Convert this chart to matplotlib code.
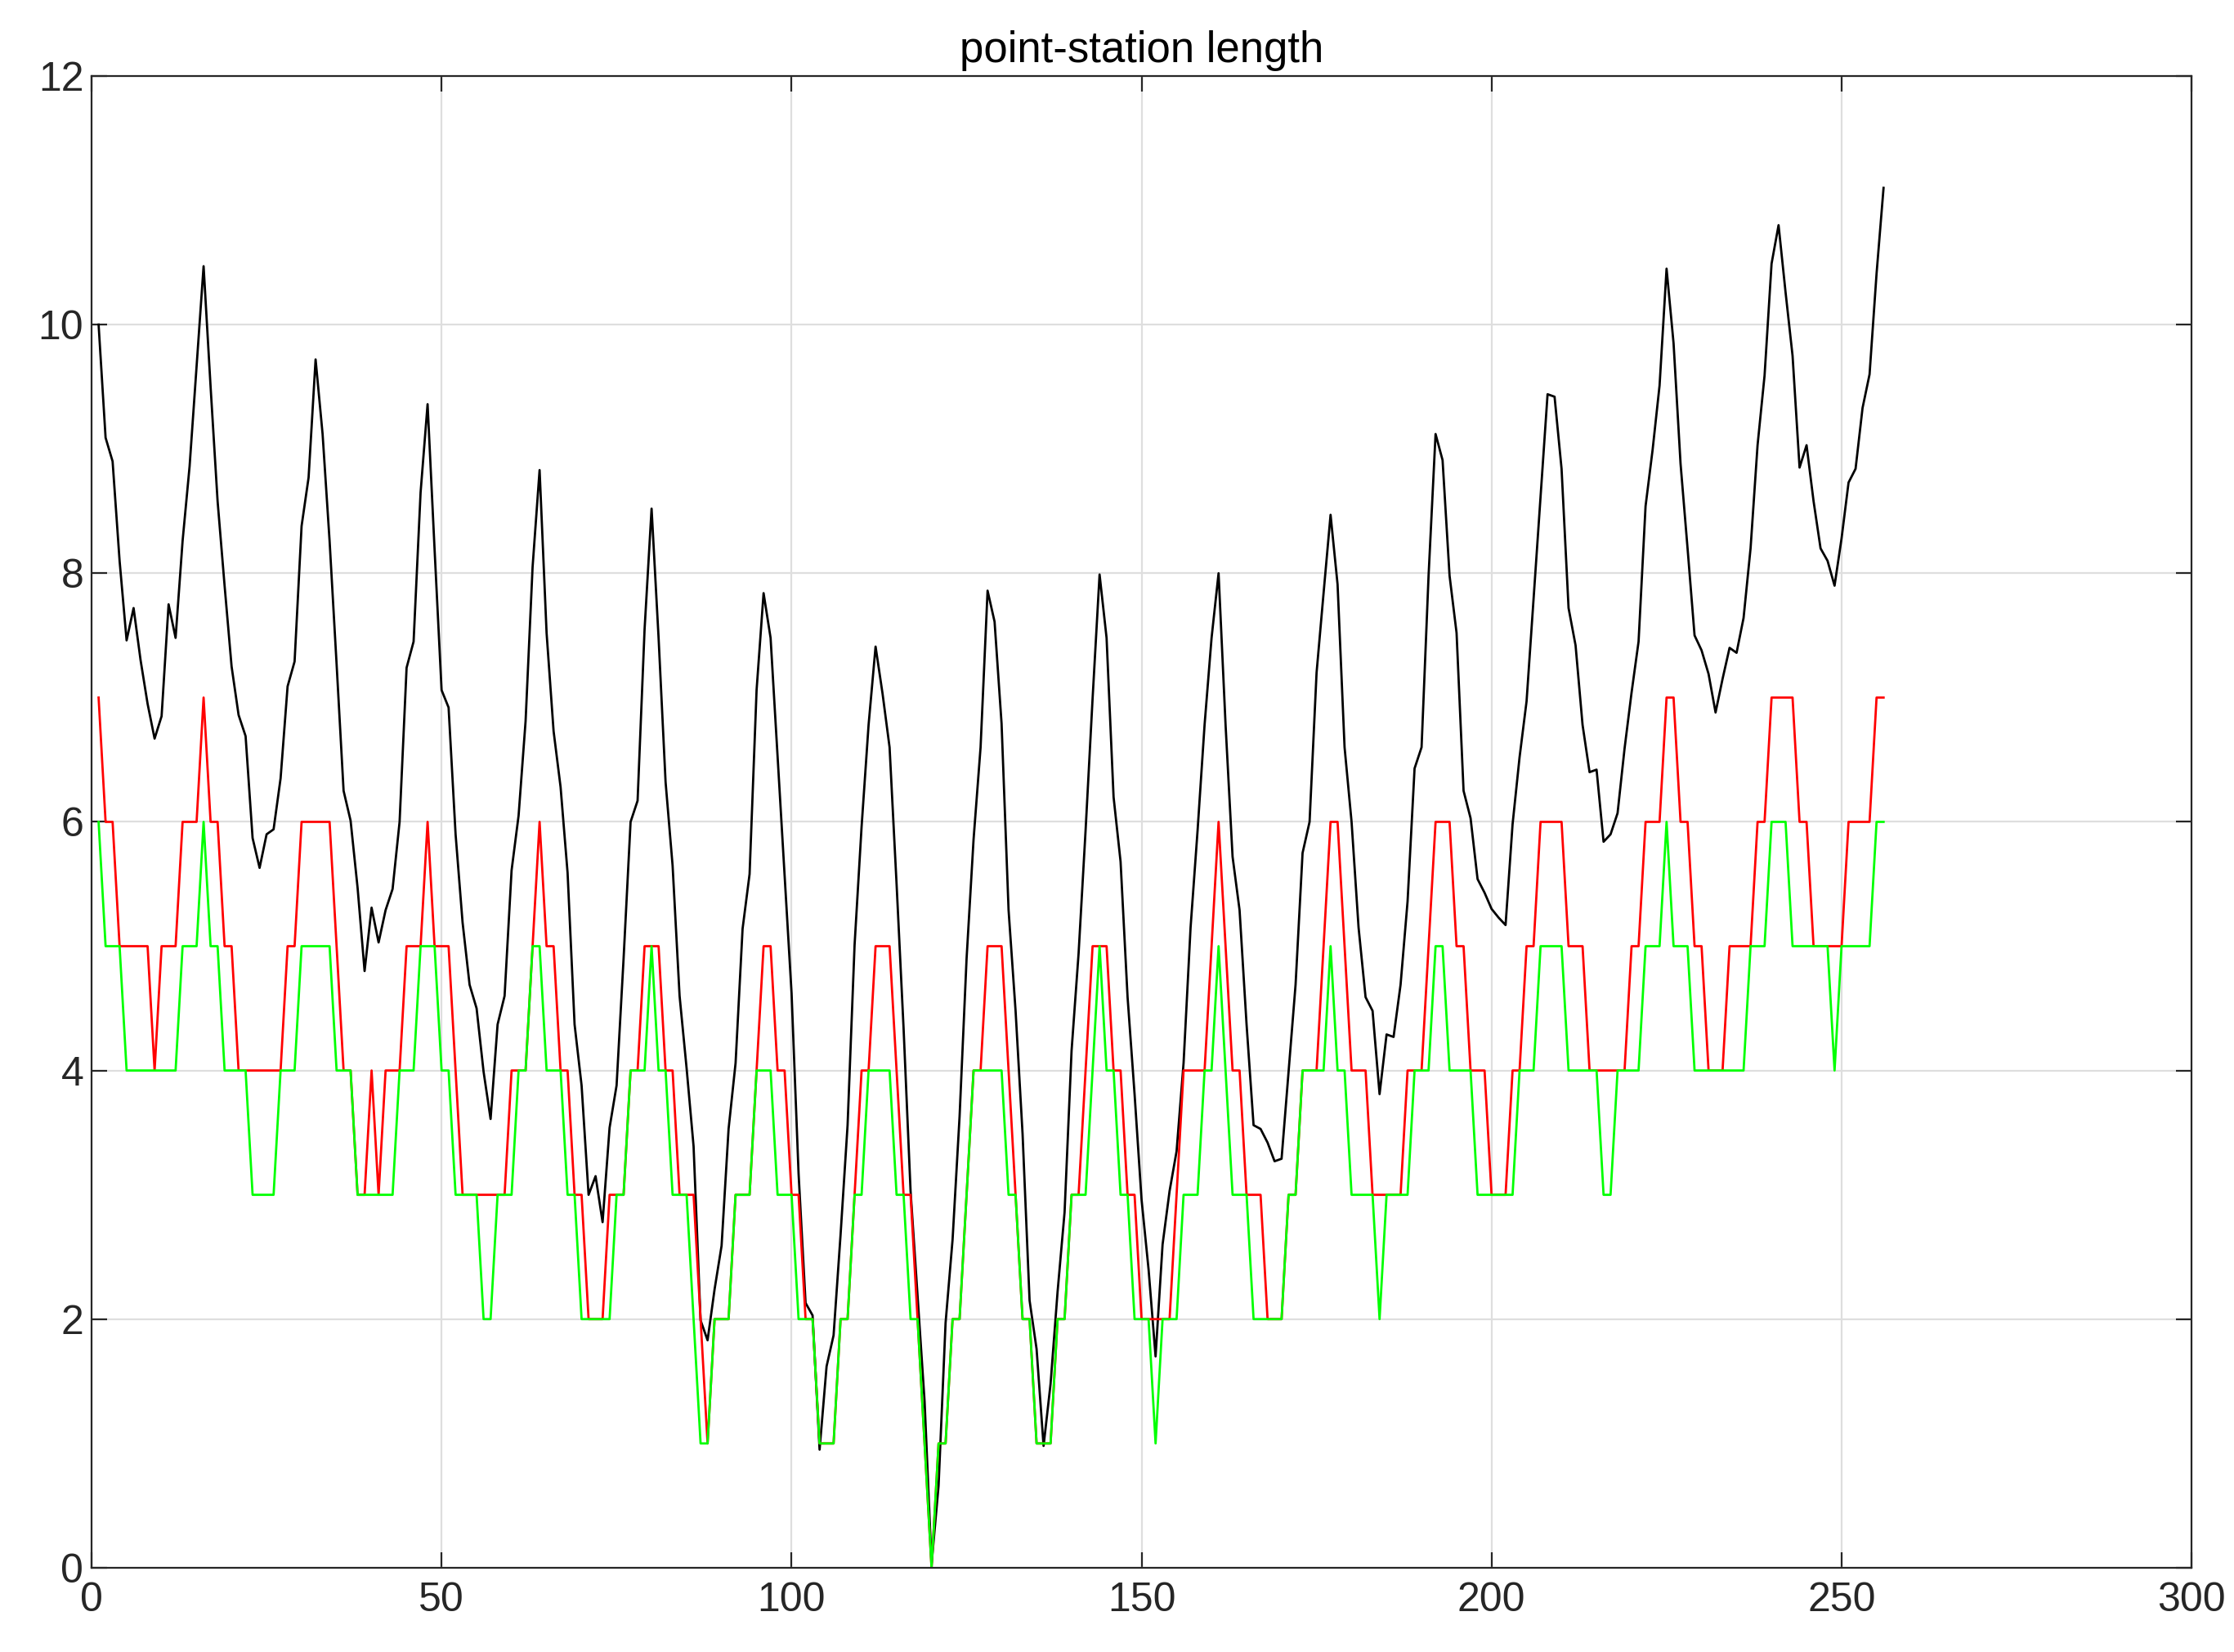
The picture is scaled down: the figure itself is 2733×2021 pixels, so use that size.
import numpy as np
import matplotlib
matplotlib.use('Agg')
import matplotlib.pyplot as plt

black_len = [10, 9.09, 8.9, 8.1, 7.46, 7.72, 7.3, 6.95, 6.67, 6.85,
             7.75, 7.48, 8.26, 8.86, 9.67, 10.47, 9.5, 8.58, 7.9, 7.25,
             6.86, 6.69, 5.87, 5.63, 5.9, 5.94, 6.35, 7.09, 7.29, 8.38,
             8.77, 9.72, 9.12, 8.26, 7.27, 6.25, 6.01, 5.47, 4.8, 5.31,
             5.03, 5.29, 5.46, 6.0, 7.24, 7.45, 8.65, 9.36, 8.19, 7.06,
             6.92, 5.9, 5.19, 4.69, 4.5, 3.99, 3.61, 4.37, 4.6, 5.61,
             6.05, 6.81, 8.05, 8.83, 7.52, 6.73, 6.28, 5.59, 4.37, 3.88,
             3.0, 3.15, 2.78, 3.54, 3.88, 4.9, 6.0, 6.17, 7.55, 8.52,
             7.48, 6.32, 5.65, 4.6, 4.02, 3.39, 1.99, 1.83, 2.24, 2.59,
             3.53, 4.06, 5.14, 5.58, 7.06, 7.84, 7.48, 6.53, 5.58, 4.62,
             3.17, 2.13, 2.03, 0.95, 1.62, 1.87, 2.68, 3.56, 5.01, 5.96,
             6.78, 7.41, 7.03, 6.6, 5.5, 4.34, 3.03, 2.18, 1.34, 0.03,
             0.66, 1.97, 2.64, 3.63, 4.9, 5.86, 6.6, 7.86, 7.61, 6.79,
             5.29, 4.48, 3.49, 2.15, 1.76, 0.98, 1.48, 2.22, 2.86, 4.16,
             4.94, 5.93, 6.99, 7.99, 7.48, 6.2, 5.68, 4.59, 3.81, 2.96,
             2.4, 1.7, 2.6, 3.03, 3.35, 4.06, 5.15, 5.93, 6.78, 7.48,
             8.0, 6.78, 5.72, 5.29, 4.37, 3.56, 3.53, 3.42, 3.27, 3.29,
             3.99, 4.69, 5.75, 6.0, 7.2, 7.84, 8.47, 7.91, 6.6, 6.0,
             5.15, 4.59, 4.48, 3.81, 4.29, 4.27, 4.69, 5.36, 6.43, 6.6,
             7.98, 9.12, 8.91, 7.98, 7.52, 6.25, 6.03, 5.54, 5.43, 5.3,
             5.23, 5.17, 5.98, 6.52, 6.97, 7.79, 8.61, 9.44, 9.42, 8.84,
             7.72, 7.42, 6.78, 6.4, 6.42, 5.84, 5.9, 6.07, 6.59, 7.04,
             7.45, 8.54, 8.99, 9.51, 10.45, 9.85, 8.88, 8.2, 7.5, 7.38,
             7.19, 6.88, 7.15, 7.4, 7.36, 7.64, 8.2, 9.03, 9.59, 10.49,
             10.8, 10.26, 9.75, 8.85, 9.03, 8.58, 8.2, 8.1, 7.9, 8.28,
             8.73, 8.84, 9.33, 9.6, 10.41, 11.1]

red_len = [7, 6, 6, 5, 5, 5, 5, 5, 4, 5,
           5, 5, 6, 6, 6, 7, 6, 6, 5, 5,
           4, 4, 4, 4, 4, 4, 4, 5, 5, 6,
           6, 6, 6, 6, 5, 4, 4, 3, 3, 4,
           3, 4, 4, 4, 5, 5, 5, 6, 5, 5,
           5, 4, 3, 3, 3, 3, 3, 3, 3, 4,
           4, 4, 5, 6, 5, 5, 4, 4, 3, 3,
           2, 2, 2, 3, 3, 3, 4, 4, 5, 5,
           5, 4, 4, 3, 3, 3, 2, 1, 2, 2,
           2, 3, 3, 3, 4, 5, 5, 4, 4, 3,
           3, 2, 2, 1, 1, 1, 2, 2, 3, 4,
           4, 5, 5, 5, 4, 3, 3, 2, 1, 0,
           1, 1, 2, 2, 3, 4, 4, 5, 5, 5,
           4, 3, 2, 2, 1, 1, 1, 2, 2, 3,
           3, 4, 5, 5, 5, 4, 4, 3, 3, 2,
           2, 2, 2, 2, 3, 4, 4, 4, 4, 5,
           6, 5, 4, 4, 3, 3, 3, 2, 2, 2,
           3, 3, 4, 4, 4, 5, 6, 6, 5, 4,
           4, 4, 3, 3, 3, 3, 3, 4, 4, 4,
           5, 6, 6, 6, 5, 5, 4, 4, 4, 3,
           3, 3, 4, 4, 5, 5, 6, 6, 6, 6,
           5, 5, 5, 4, 4, 4, 4, 4, 4, 5,
           5, 6, 6, 6, 7, 7, 6, 6, 5, 5,
           4, 4, 4, 5, 5, 5, 5, 6, 6, 7,
           7, 7, 7, 6, 6, 5, 5, 5, 5, 5,
           6, 6, 6, 6, 7, 7]

green_len = [6, 5, 5, 5, 4, 4, 4, 4, 4, 4,
             4, 4, 5, 5, 5, 6, 5, 5, 4, 4,
             4, 4, 3, 3, 3, 3, 4, 4, 4, 5,
             5, 5, 5, 5, 4, 4, 4, 3, 3, 3,
             3, 3, 3, 4, 4, 4, 5, 5, 5, 4,
             4, 3, 3, 3, 3, 2, 2, 3, 3, 3,
             4, 4, 5, 5, 4, 4, 4, 3, 3, 2,
             2, 2, 2, 2, 3, 3, 4, 4, 4, 5,
             4, 4, 3, 3, 3, 2, 1, 1, 2, 2,
             2, 3, 3, 3, 4, 4, 4, 3, 3, 3,
             2, 2, 2, 1, 1, 1, 2, 2, 3, 3,
             4, 4, 4, 4, 3, 3, 2, 2, 1, 0,
             1, 1, 2, 2, 3, 4, 4, 4, 4, 4,
             3, 3, 2, 2, 1, 1, 1, 2, 2, 3,
             3, 3, 4, 5, 4, 4, 3, 3, 2, 2,
             2, 1, 2, 2, 2, 3, 3, 3, 4, 4,
             5, 4, 3, 3, 3, 2, 2, 2, 2, 2,
             3, 3, 4, 4, 4, 4, 5, 4, 4, 3,
             3, 3, 3, 2, 3, 3, 3, 3, 4, 4,
             4, 5, 5, 4, 4, 4, 4, 3, 3, 3,
             3, 3, 3, 4, 4, 4, 5, 5, 5, 5,
             4, 4, 4, 4, 4, 3, 3, 4, 4, 4,
             4, 5, 5, 5, 6, 5, 5, 5, 4, 4,
             4, 4, 4, 4, 4, 4, 5, 5, 5, 6,
             6, 6, 5, 5, 5, 5, 5, 5, 4, 5,
             5, 5, 5, 5, 6, 6]

plt.rcParams['font.family'] = ['Liberation Sans', 'DejaVu Sans']

fig = plt.figure(figsize=(13.665, 10.105), dpi=200)
ax = fig.add_axes([0.041, 0.051, 0.940, 0.903])

ax.plot(np.arange(1, len(black_len) + 1), black_len, color='black', lw=1.0)
ax.plot(np.arange(1, len(red_len) + 1), red_len, color='red', lw=1.0)
ax.plot(np.arange(1, len(green_len) + 1), green_len, color='#00ff00', lw=1.0)

ax.set_xlim(0, 300)
ax.set_ylim(0, 12)
ax.set_xticks(range(0, 301, 50))
ax.set_yticks(range(0, 13, 2))
ax.grid(True, color='#dedede', lw=0.8)
ax.set_axisbelow(True)
ax.tick_params(direction='in', length=7, width=0.8, labelsize=18, colors='#262626',
               top=True, right=True)
ax.tick_params(axis='x', pad=6)
for s in ax.spines.values():
    s.set_color('#262626')
    s.set_linewidth(0.8)
ax.set_title('point-station length', fontsize=19, pad=6)

fig.savefig('out.png', dpi=200)
